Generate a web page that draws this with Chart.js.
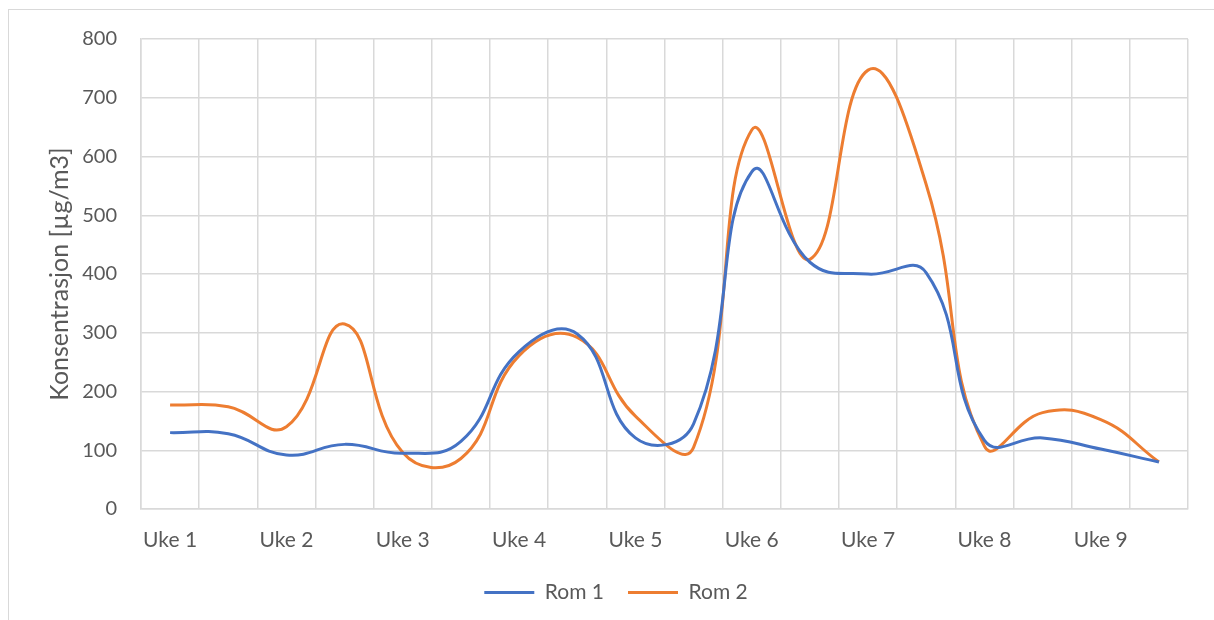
<!DOCTYPE html>
<html>
<head>
<meta charset="utf-8">
<script src="https://cdn.jsdelivr.net/npm/chart.js@4.4.1/dist/chart.umd.min.js"></script>
<style>
  html, body { margin: 0; padding: 0; background: #fff; overflow: hidden; }
  #frame { position: absolute; left: 8px; top: 9px; width: 1300px; height: 700px; border: 1px solid #d9d9d9; }
  #wrap { position: absolute; left: 0; top: 0; width: 1214px; height: 620px; }
</style>
</head>
<body>
<div id="frame"></div>
<div id="wrap"><canvas id="lineChart" width="1214" height="620"></canvas></div>
<script>
const categories = ['Uke 1', '', 'Uke 2', '', 'Uke 3', '', 'Uke 4', '', 'Uke 5', '',
                    'Uke 6', '', 'Uke 7', '', 'Uke 8', '', 'Uke 9', ''];
const rom1 = [130, 128, 92, 110, 95, 115, 268, 298, 121, 145, 574, 420, 400, 402, 117, 121, 102, 80];
const rom2 = [177, 174, 140, 315, 96, 86, 261, 292, 158, 105, 645, 425, 747, 552, 107, 164, 152, 80];
const yTicks = [0, 100, 200, 300, 400, 500, 600, 700, 800];

const textColor = '#595959';
const gridColor = '#d9d9d9';
const fontFamily = 'Lato, "Open Sans", sans-serif';

const ctx = document.getElementById('lineChart').getContext('2d');
new Chart(ctx, {
    type: 'line',
    data: {
      labels: categories,
      datasets: [{
        label: 'Rom 1',
        data: rom1,
        borderColor: '#4472C4',
        backgroundColor: '#4472C4',
        borderWidth: 3,
        pointRadius: 0,
        tension: 0.45
      }, {
        label: 'Rom 2',
        data: rom2,
        borderColor: '#ED7D31',
        backgroundColor: '#ED7D31',
        borderWidth: 3,
        pointRadius: 0,
        tension: 0.45
      }]
    },
    options: {
      responsive: false,
      animation: false,
      // left padding also nudges the legend to where the original had it
      layout: { padding: { left: 44, right: 26, top: 39, bottom: 7 } },
      scales: {
        x: {
          offset: true,
          grid: { offset: true, color: gridColor, lineWidth: 1.5, drawTicks: false },
          border: { color: gridColor, width: 1.5 },
          ticks: { color: textColor, font: { family: fontFamily, size: 21 }, padding: 19, autoSkip: false, maxRotation: 0 },
          afterFit: (scale) => { scale.height = 49; }
        },
        y: {
          min: 0,
          max: 800,
          afterBuildTicks: (scale) => { scale.ticks = yTicks.map(v => ({ value: v })); },
          grid: { color: gridColor, lineWidth: 1.5, drawTicks: false },
          border: { color: gridColor, width: 1.5 },
          ticks: { color: textColor, font: { family: fontFamily, size: 20 }, padding: 24 },
          title: {
            display: true,
            text: 'Konsentrasjon [µg/m3]',
            color: textColor,
            font: { family: fontFamily, size: 25 },
            padding: { top: 1, bottom: 0 }
          },
          afterFit: (scale) => { scale.width = 97; }
        }
      },
      plugins: {
        legend: {
          position: 'bottom',
          labels: {
            color: textColor,
            font: { family: fontFamily, size: 21 },
            usePointStyle: true,
            pointStyle: 'line',
            pointStyleWidth: 50,
            padding: 24
          }
        },
        tooltip: { enabled: false }
      }
    }
});
</script>
</body>
</html>
